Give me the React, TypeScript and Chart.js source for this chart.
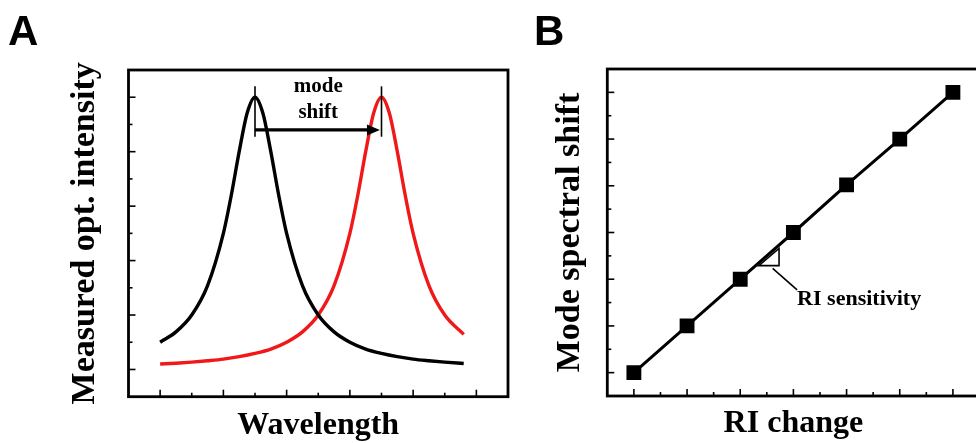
import React, { useEffect, useRef } from "react";
import { Chart, registerables } from "chart.js";

Chart.register(...registerables);

// ---------- Panel A data ----------
const waveBlackX = [0, 0.5, 1, 1.5, 2, 2.25, 2.5, 2.75, 3, 3.25, 3.5, 3.75, 4, 4.5, 5, 5.5, 6, 6.5, 7, 7.5, 8, 8.5, 9, 9.6];
const intensityBlack = [1.0, 1.38, 2.0, 3.08, 5.0, 6.4, 8.0, 9.41, 10, 9.41, 8.0, 6.4, 5.0, 3.08, 2.0, 1.38, 1.0, 0.75, 0.59, 0.47, 0.38, 0.32, 0.27, 0.22];
const waveRedX = [0, 0.5, 1, 1.5, 2, 2.5, 3, 3.5, 4, 4.5, 5, 5.5, 6, 6.25, 6.5, 6.75, 7, 7.25, 7.5, 7.75, 8, 8.5, 9, 9.6];
const intensityRed = [0.2, 0.23, 0.27, 0.32, 0.38, 0.47, 0.59, 0.75, 1.0, 1.38, 2.0, 3.08, 5.0, 6.4, 8.0, 9.41, 10, 9.41, 8.0, 6.4, 5.0, 3.08, 2.0, 1.29];
const waveTicksMajor = [0, 2, 4, 6, 8, 10];
const waveTicksMinor = [1, 3, 5, 7, 9];
const intensityTicksMajor = [0, 2, 4, 6, 8, 10];
const intensityTicksMinor = [1, 3, 5, 7, 9];
const peakMarkersX = [3, 7];
const peakMarkerYRange = [8.55, 10.4];
const shiftArrowY = 8.8;
const shiftArrowX = [3, 6.95];
const shiftLabel = ["mode", "shift"];
const shiftLabelPos = [[5, 10.38], [5, 9.42]];

// ---------- Panel B data ----------
const riChange = [0, 1, 2, 3, 4, 5, 6];
const modeShift = [0, 1, 2, 3, 4.02, 5, 6];
const riTicksMajor = [0, 1, 2, 3, 4, 5, 6];
const riTicksMinor = [0.5, 1.5, 2.5, 3.5, 4.5, 5.5];
const shiftTicksMajor = [0, 1, 2, 3, 4, 5, 6];
const shiftTicksMinor = [0.5, 1.5, 2.5, 3.5, 4.5, 5.5];
const sensTriangle = [[2.35, 2.29], [2.73, 2.29], [2.73, 2.66]];
const sensLeader = [[2.61, 2.23], [3.07, 1.77]];
const sensLabel = "RI sensitivity";
const sensLabelPos = [3.07, 1.56];

const SERIF = '"Liberation Serif", "Times New Roman", serif';
const SANS = '"Liberation Sans", Arial, sans-serif';

function frameTicksPlugin(xMaj: number[], xMin: number[], yMaj: number[], yMin: number[], panelLabel: string, labelX: number, labelY: number, extra: (chart: any) => void) {
  return {
    id: "frameTicks" + panelLabel,
    afterDatasetsDraw(chart: any) {
      const { ctx, chartArea: a, scales } = chart;
      const xs = scales.x;
      const ys = scales.y;
      ctx.save();
      ctx.strokeStyle = "#000";
      ctx.lineWidth = 2.8;
      ctx.strokeRect(a.left, a.top, a.right - a.left, a.bottom - a.top);
      ctx.lineWidth = 1.6;
      const tick = (px: number, py: number, dx: number, dy: number) => {
        ctx.beginPath();
        ctx.moveTo(px, py);
        ctx.lineTo(px + dx, py + dy);
        ctx.stroke();
      };
      xMaj.forEach((v) => tick(xs.getPixelForValue(v), a.bottom, 0, -7));
      xMin.forEach((v) => tick(xs.getPixelForValue(v), a.bottom, 0, -4));
      yMaj.forEach((v) => tick(a.left, ys.getPixelForValue(v), 7, 0));
      yMin.forEach((v) => tick(a.left, ys.getPixelForValue(v), 4, 0));
      extra(chart);
      ctx.restore();
      // panel letter
      ctx.save();
      ctx.fillStyle = "#000";
      ctx.font = `bold 42px ${SANS}`;
      ctx.textBaseline = "alphabetic";
      ctx.textAlign = "left";
      ctx.fillText(panelLabel, labelX, labelY);
      ctx.restore();
    },
  };
}

function drawPanelA(chart: any) {
  const { ctx, scales } = chart;
  const xs = scales.x;
  const ys = scales.y;
  ctx.strokeStyle = "#000";
  ctx.fillStyle = "#000";
  ctx.lineWidth = 1.6;
  peakMarkersX.forEach((v) => {
    const px = xs.getPixelForValue(v);
    ctx.beginPath();
    ctx.moveTo(px, ys.getPixelForValue(peakMarkerYRange[0]));
    ctx.lineTo(px, ys.getPixelForValue(peakMarkerYRange[1]));
    ctx.stroke();
  });
  const ay = ys.getPixelForValue(shiftArrowY);
  const x0 = xs.getPixelForValue(shiftArrowX[0]);
  const x1 = xs.getPixelForValue(shiftArrowX[1]);
  ctx.lineWidth = 3.2;
  ctx.beginPath();
  ctx.moveTo(x0, ay);
  ctx.lineTo(x1 - 10, ay);
  ctx.stroke();
  ctx.beginPath();
  ctx.moveTo(x1, ay);
  ctx.lineTo(x1 - 13, ay - 5.5);
  ctx.lineTo(x1 - 13, ay + 5.5);
  ctx.closePath();
  ctx.fill();
  ctx.font = `bold 21px ${SERIF}`;
  ctx.textAlign = "center";
  ctx.textBaseline = "middle";
  shiftLabel.forEach((t, i) => {
    ctx.fillText(t, xs.getPixelForValue(shiftLabelPos[i][0]), ys.getPixelForValue(shiftLabelPos[i][1]));
  });
}

function drawPanelB(chart: any) {
  const { ctx, scales } = chart;
  const xs = scales.x;
  const ys = scales.y;
  ctx.strokeStyle = "#000";
  ctx.fillStyle = "#000";
  ctx.lineWidth = 1.6;
  ctx.beginPath();
  sensTriangle.forEach((p, i) => {
    const px = xs.getPixelForValue(p[0]);
    const py = ys.getPixelForValue(p[1]);
    if (i === 0) ctx.moveTo(px, py);
    else ctx.lineTo(px, py);
  });
  ctx.closePath();
  ctx.stroke();
  ctx.beginPath();
  ctx.moveTo(xs.getPixelForValue(sensLeader[0][0]), ys.getPixelForValue(sensLeader[0][1]));
  ctx.lineTo(xs.getPixelForValue(sensLeader[1][0]), ys.getPixelForValue(sensLeader[1][1]));
  ctx.stroke();
  ctx.font = `bold 22px ${SERIF}`;
  ctx.textAlign = "left";
  ctx.textBaseline = "middle";
  ctx.fillText(sensLabel, xs.getPixelForValue(sensLabelPos[0]), ys.getPixelForValue(sensLabelPos[1]));
}

function axisCfg(min: number, max: number, title: string, size: number, padding: any) {
  return {
    type: "linear",
    min,
    max,
    ticks: { display: false },
    grid: { display: false, drawTicks: false, tickLength: 0 },
    border: { display: false },
    title: {
      display: true,
      text: title,
      color: "#000",
      font: { family: SERIF, size, weight: "bold", lineHeight: 1 },
      padding,
    },
  };
}

export default function App() {
  const refA = useRef<HTMLCanvasElement>(null);
  const refB = useRef<HTMLCanvasElement>(null);

  useEffect(() => {
    const chartA = new Chart(refA.current as HTMLCanvasElement, {
      type: "line",
      data: {
        datasets: [
          {
            data: waveBlackX.map((x, i) => ({ x, y: intensityBlack[i] })),
            borderColor: "#000000",
            borderWidth: 3.4,
            pointRadius: 0,
            cubicInterpolationMode: "monotone",
          },
          {
            data: waveRedX.map((x, i) => ({ x, y: intensityRed[i] })),
            borderColor: "#f01818",
            borderWidth: 3.4,
            pointRadius: 0,
            cubicInterpolationMode: "monotone",
          },
        ],
      },
      options: {
        responsive: false,
        animation: false,
        devicePixelRatio: 1,
        events: [],
        layout: { padding: { left: 68.5, right: 2, top: 70, bottom: 0 } },
        plugins: { legend: { display: false }, tooltip: { enabled: false } },
        scales: {
          x: axisCfg(-1, 11, "Wavelength", 32, { top: 13.3, bottom: 1 }),
          y: axisCfg(-1, 11, "Measured opt. intensity", 34, { top: 0, bottom: 26 }),
        },
      } as any,
      plugins: [frameTicksPlugin(waveTicksMajor, waveTicksMinor, intensityTicksMajor, intensityTicksMinor, "A", 8, 45, drawPanelA)],
    } as any);

    const chartB = new Chart(refB.current as HTMLCanvasElement, {
      type: "line",
      data: {
        datasets: [
          {
            data: riChange.map((x, i) => ({ x, y: modeShift[i] })),
            borderColor: "#000000",
            borderWidth: 3,
            pointStyle: "rect",
            pointRadius: 10.5,
            pointBackgroundColor: "#000000",
            pointBorderColor: "#000000",
            pointBorderWidth: 0,
          },
        ],
      },
      options: {
        responsive: false,
        animation: false,
        devicePixelRatio: 1,
        events: [],
        layout: { padding: { left: 43, right: 3.5, top: 69, bottom: 0 } },
        plugins: { legend: { display: false }, tooltip: { enabled: false } },
        scales: {
          x: axisCfg(-0.5, 6.5, "RI change", 32, { top: 12.2, bottom: 2.8 }),
          y: axisCfg(-0.5, 6.5, "Mode spectral shift", 34, { top: 0, bottom: 20.3 }),
        },
      } as any,
      plugins: [frameTicksPlugin(riTicksMajor, riTicksMinor, shiftTicksMajor, shiftTicksMinor, "B", 24, 45, drawPanelB)],
    } as any);

    return () => {
      chartA.destroy();
      chartB.destroy();
    };
  }, []);

  return (
    <div
      style={{
        position: "fixed",
        left: 0,
        top: 0,
        width: 976,
        height: 443,
        overflow: "hidden",
        background: "#fff",
      }}
    >
      <canvas ref={refA} width={510} height={443} style={{ position: "absolute", left: 0, top: 0, width: 510, height: 443 }} />
      <canvas ref={refB} width={480} height={443} style={{ position: "absolute", left: 510, top: 0, width: 480, height: 443 }} />
    </div>
  );
}
